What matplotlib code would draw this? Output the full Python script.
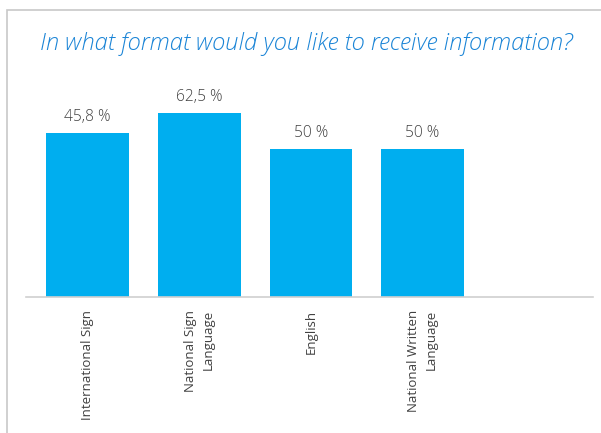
import matplotlib.pyplot as plt
from matplotlib.patches import Rectangle

# data
categories = ['International Sign', 'National Sign\nLanguage', 'English', 'National Written\nLanguage']
label_values = [45.8, 62.5, 50, 50]
# the first bar in the original is drawn taller than its label says, keep it that way
bar_heights = [55.7, 62.5, 50, 50]

title = 'In what format would you like to receive information?'
bar_color = '#00aeef'
text_color = '#404040'
title_color = '#1a84d6'

plt.rcParams['font.family'] = ['Open Sans', 'DejaVu Sans']

fig = plt.figure(figsize=(6.01, 4.33), dpi=100)

# light grey frame around the chart area (runs off the right and bottom edge)
fig.patches.append(Rectangle((7 / 601, -0.1), 1.0, 1 - 10 / 433 + 0.1,
                             transform=fig.transFigure, fill=False,
                             edgecolor='#c8c8c8', linewidth=1.2))

fig.text(40 / 601, 1 - 44 / 433, title, color=title_color, fontsize=17.1,
         style='italic', fontweight='light', ha='left', va='center')

ax = fig.add_axes([26 / 601, 1 - 297 / 433, 567 / 601, 237 / 433])
x = list(range(len(categories)))
bars = ax.bar(x, bar_heights, width=0.74, color=bar_color)

for b, v in zip(bars, label_values):
    txt = f'{v:g}'.replace('.', ',') + ' %'
    ax.annotate(txt, (b.get_x() + b.get_width() / 2, b.get_height()),
                xytext=(0, 11.5), textcoords='offset points',
                ha='center', va='center', fontsize=11.2, fontweight='light',
                color=text_color)

ax.set_xlim(-0.551, 4.526)
ax.set_ylim(0, 80.3)
ax.set_xticks(x)
ax.set_xticklabels(categories, rotation=90, fontsize=9.5, color=text_color,
                   multialignment='right', linespacing=1.45)
ax.tick_params(axis='x', length=0, pad=9)
ax.set_yticks([])

for s in ['top', 'right', 'left']:
    ax.spines[s].set_visible(False)
ax.spines['bottom'].set_color('#d0d0d0')
ax.spines['bottom'].set_linewidth(1.2)

fig.savefig('out.png', dpi=100)
